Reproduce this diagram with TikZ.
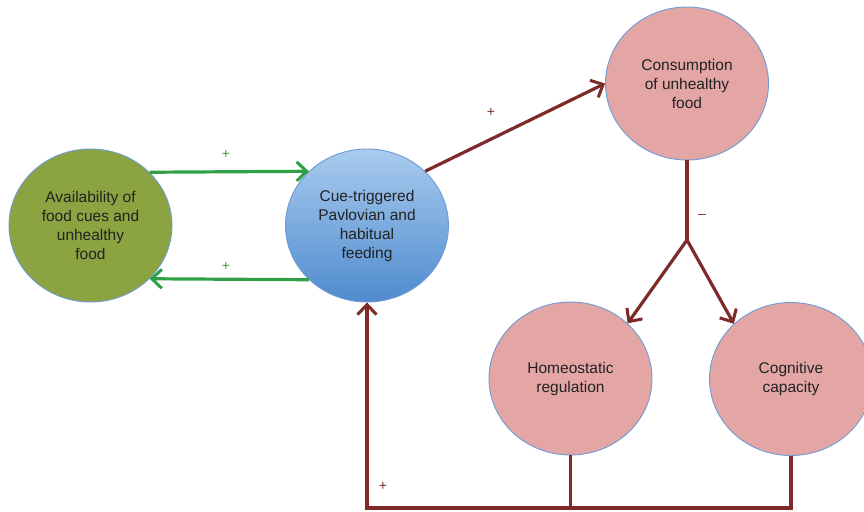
\documentclass[tikz,border=0pt]{standalone}
\usepackage{fontspec}
\setmainfont{Liberation Sans}
\usetikzlibrary{shapes.geometric,arrows.meta}
\definecolor{olivefill}{HTML}{8BA340}
\definecolor{edgeblue}{HTML}{6E9BD5}
\definecolor{pinkfill}{HTML}{E3A6A5}
\definecolor{brownline}{HTML}{7D2A28}
\definecolor{greenline}{HTML}{2FA046}
\definecolor{bluetop}{HTML}{A9CBEE}
\definecolor{bluebot}{HTML}{4F8BCF}
\definecolor{txt}{HTML}{222222}
\tikzset{
  blob/.style={ellipse, draw=edgeblue, line width=0.9pt, minimum width=163pt, minimum height=153pt, inner sep=0pt, align=center, text=txt, font=\fontsize{15.5}{19}\selectfont},
  garrow/.style={draw=greenline, line width=3.2pt, -{Straight Barb[length=10pt,width=19pt,line width=3pt]}},
  barrow/.style={draw=brownline, line width=3.2pt, -{Straight Barb[length=10pt,width=19pt,line width=3pt]}},
  bline/.style={draw=brownline, line width=3.2pt},
  glab/.style={text=greenline, font=\fontsize{14}{15}\selectfont},
  blab/.style={text=brownline, font=\fontsize{14}{15}\selectfont},
}
\begin{document}
\begin{tikzpicture}[x=1pt,y=-1pt]
\useasboundingbox (0,0) rectangle (864,511);
\clip (0,0) rectangle (864,511);
\node[blob, fill=olivefill] (g) at (90.5,225.5) {Availability of\\food cues and\\unhealthy\\food};
\node[blob, top color=bluetop, bottom color=bluebot] (b) at (367,225.5) {Cue-triggered\\Pavlovian and\\habitual\\feeding};
\node[blob, fill=pinkfill] (c) at (687,83.5) {Consumption\\of unhealthy\\food};
\node[blob, fill=pinkfill] (h) at (570.5,378.5) {Homeostatic\\regulation};
\node[blob, fill=pinkfill] (k) at (791,379) {Cognitive\\capacity};

\coordinate (f) at (687,240);
\coordinate (bl) at (367,508);

\draw[garrow] (g.42.4) -- (b.137.6);
\draw[garrow] (b.-137.6) -- (g.-42.4);
\draw[barrow] (b.43.5) -- (c.west);
\draw[bline] (c.south) -- (f);
\draw[barrow] (f) -- (h.44);
\draw[barrow] (f) -- (k.136);
\draw[bline] (h.south) -- (h.south |- bl);
\draw[barrow, line join=miter] (k.south) |- (bl) -- (b.south);

\node[glab] (p1) at (226,154) {+};
\node[glab] (p2) at (226,266) {+};
\node[blab] (p3) at (491,112) {+};
\node[blab] (p4) at (702,216) {–};
\node[blab] (p5) at (383,486) {+};
\end{tikzpicture}
\end{document}
